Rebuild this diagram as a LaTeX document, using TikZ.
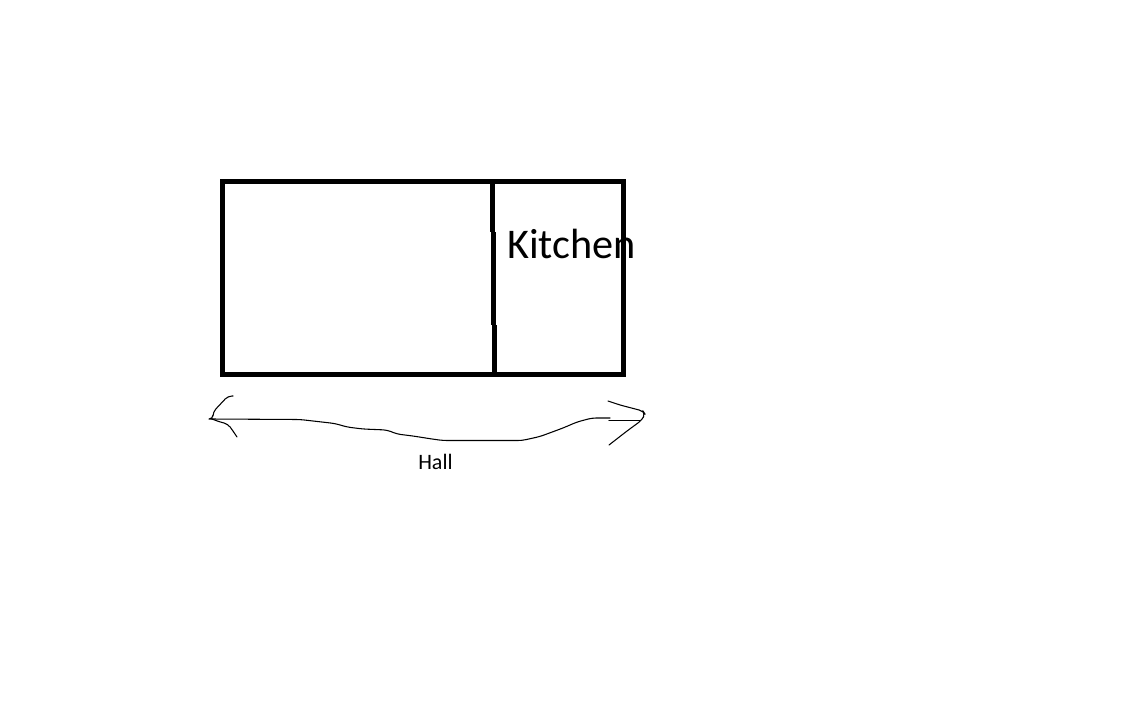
\documentclass[tikz,border=0pt]{standalone}
\usepackage{fontspec}
\setmainfont{Carlito}
\tikzset{
    wall/.style={draw=black, line width=3.75pt},
    pen/.style={draw=black, line width=0.8pt, line join=round, line cap=round, rounded corners=3pt},
    roomlabel/.style={anchor=base west, inner sep=0pt, font=\fontsize{31.7}{32}\selectfont},
    halllabel/.style={anchor=base west, inner sep=0pt, font=\fontsize{16.5}{17}\selectfont}
}
\begin{document}
\begin{tikzpicture}[x=0.75pt, y=-0.75pt]
    \useasboundingbox (0,0) rectangle (1142,708);

    \draw[wall] (222.5,181.5) rectangle (623.5,374.5);
    \draw[wall] (492.5,181.5) -- (492.5,232) (493.5,232) -- (493.5,325) (494.5,325) -- (494.5,374.5);
    \node (kitchen) [roomlabel] at (507,258.5) {Kitchen};

    \coordinate (halltail) at (212,419);
    \coordinate (halltip) at (640,420.5);
    \draw[pen] (halltail) -- (300,419.5) -- (335,423.5) -- (347,427) -- (363,429) -- (387,430) -- (397,434)
        -- (413,436) -- (432,439) -- (443,440.5) -- (522,440.5) -- (540,436.5) -- (563,428) -- (577,422)
        -- (592,418) -- (610,418);
    \draw[pen] (609,420.5) -- (halltip);
    \draw[pen] (233,396) -- (228,396) -- (213,412) -- (213,419) -- (halltail);
    \draw[pen] (halltail) -- (220,422) -- (228,424) -- (233,431) -- (237,437);
    \draw[pen] (608,401) -- (620,405) -- (643,411) -- (645,414) -- (642,420) -- (627,431) -- (609,445);
    \node (hall) [halllabel] at (418,469) {Hall};
\end{tikzpicture}
\end{document}
